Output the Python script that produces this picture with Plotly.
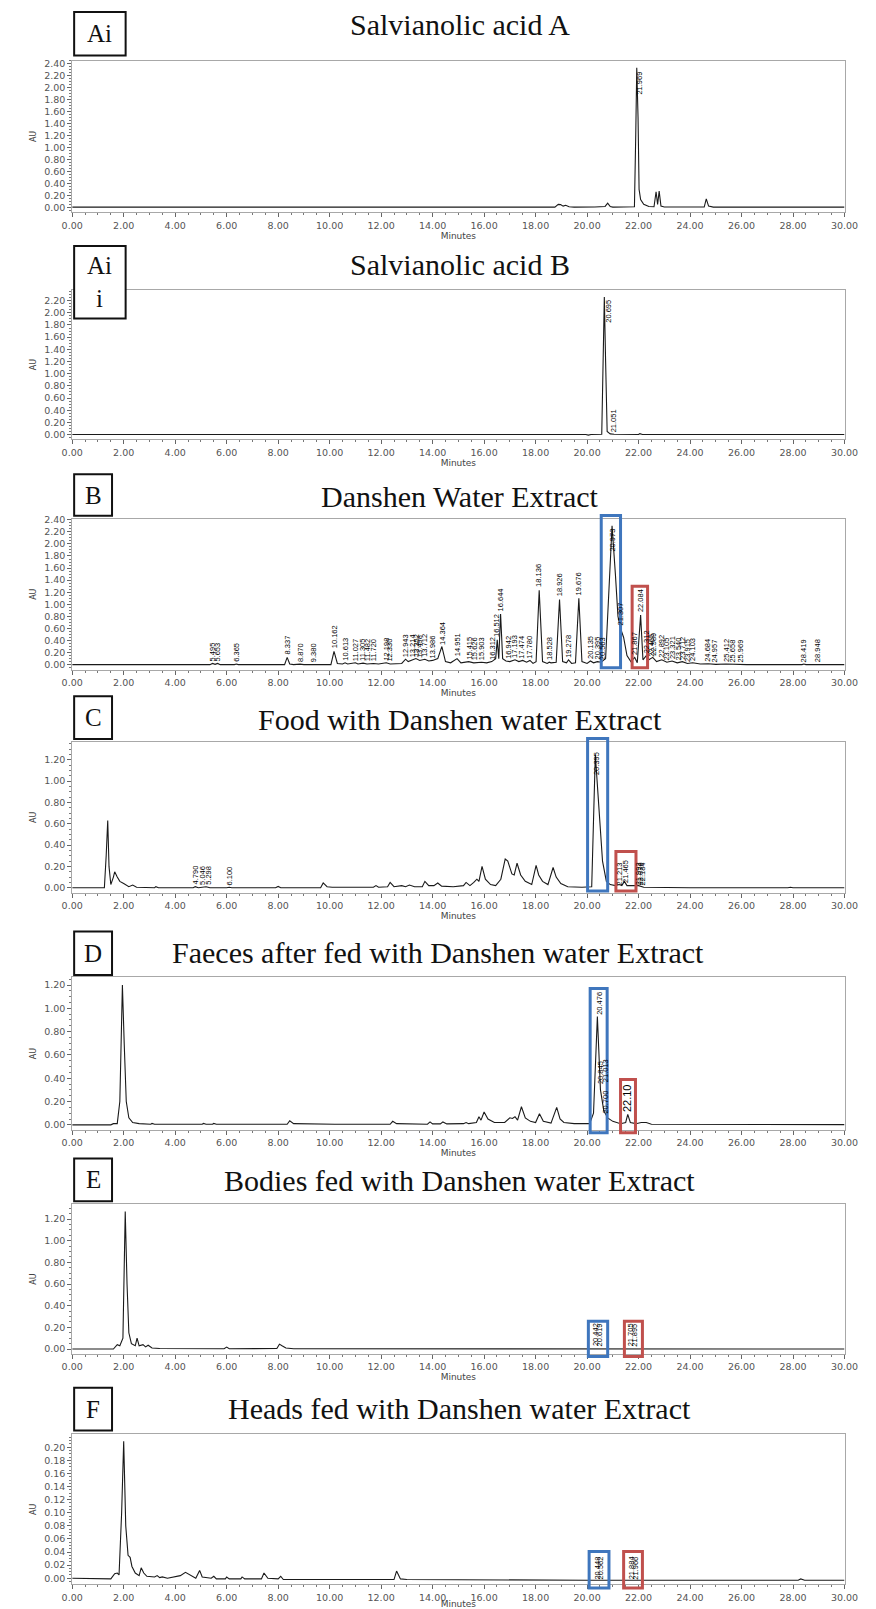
import plotly.graph_objects as go

W, H = 876, 1609

# ---------------- data: chromatogram traces (minutes, AU) ----------------
A_pts = [(0, 0.004), (13.9, 0.004), (14.0, 0.01), (14.1, 0.004), (18.75, 0.004), (18.88, 0.05), (18.97, 0.045),
         (19.07, 0.02), (19.17, 0.035), (19.3, 0.01), (19.5, 0.004), (20.3, 0.006), (20.7, 0.015), (20.8, 0.07),
         (20.9, 0.012), (21.0, 0.004), (21.84, 0.01), (21.89, 1.2), (21.93, 2.33), (21.98, 1.5), (22.02, 0.3),
         (22.08, 0.13), (22.2, 0.05), (22.4, 0.015), (22.6, 0.01), (22.68, 0.26), (22.74, 0.05), (22.8, 0.27),
         (22.87, 0.02), (23.0, 0.005), (24.55, 0.005), (24.63, 0.14), (24.72, 0.02), (24.9, 0.004), (28.4, 0.004),
         (28.5, 0.009), (28.6, 0.004), (30, 0.004)]

A2_pts = [(0, 0.0), (19.15, 0.0), (19.25, 0.012), (19.35, 0.0), (19.95, 0.0), (20.05, -0.01), (20.15, 0.0),
          (20.57, 0.005), (20.63, 1.2), (20.67, 2.26), (20.72, 1.2), (20.78, 0.05), (20.9, 0.01), (21.05, 0.005),
          (22.0, 0.0), (22.05, 0.015), (22.15, 0.0), (24.6, 0.0), (24.7, 0.012), (24.8, 0.0), (25.3, 0.0),
          (25.4, 0.01), (25.5, 0.0), (28.4, 0.0), (28.5, 0.005), (28.6, 0.0), (30, 0.0)]

B_pts = [(0, 0.0), (5.35, 0.0), (5.45, 0.02), (5.55, 0.005), (5.65, 0.02), (5.75, 0.0), (6.3, 0.0), (6.38, 0.01),
         (6.45, 0.0), (8.25, 0.0), (8.35, 0.12), (8.45, 0.01), (8.6, 0.0), (8.85, 0.008), (9.0, 0.0), (9.35, 0.006),
         (9.5, 0.0), (10.05, 0.0), (10.17, 0.22), (10.3, 0.02), (10.5, 0.01), (10.6, 0.03), (10.7, 0.01),
         (11.0, 0.03), (11.1, 0.01), (11.3, 0.025), (11.45, 0.01), (11.7, 0.02), (11.9, 0.01), (12.2, 0.03),
         (12.35, 0.01), (12.8, 0.02), (12.95, 0.09), (13.05, 0.05), (13.2, 0.08), (13.35, 0.1), (13.5, 0.07),
         (13.7, 0.09), (13.85, 0.06), (14.0, 0.07), (14.2, 0.1), (14.36, 0.3), (14.5, 0.05), (14.7, 0.03),
         (14.95, 0.1), (15.1, 0.03), (15.4, 0.05), (15.6, 0.03), (15.9, 0.04), (16.1, 0.03), (16.3, 0.05),
         (16.45, 0.1), (16.51, 0.41), (16.57, 0.1), (16.64, 0.84), (16.72, 0.1), (16.85, 0.06), (17.0, 0.05),
         (17.2, 0.08), (17.35, 0.05), (17.5, 0.07), (17.65, 0.04), (17.78, 0.07), (17.9, 0.02), (18.02, 0.05),
         (18.14, 1.23), (18.27, 0.05), (18.45, 0.02), (18.53, 0.04), (18.6, 0.03), (18.8, 0.04), (18.93, 1.08),
         (19.05, 0.05), (19.2, 0.03), (19.28, 0.08), (19.4, 0.02), (19.55, 0.03), (19.68, 1.10), (19.8, 0.05),
         (20.0, 0.02), (20.13, 0.06), (20.25, 0.03), (20.4, 0.05), (20.55, 0.04), (20.72, 0.1), (20.86, 1.3),
         (20.97, 2.30), (21.1, 1.5), (21.2, 0.8), (21.3, 0.6), (21.42, 0.45), (21.55, 0.15), (21.7, 0.05),
         (21.85, 0.12), (21.95, 0.03), (22.08, 0.82), (22.17, 0.08), (22.3, 0.15), (22.4, 0.08), (22.55, 0.12),
         (22.7, 0.05), (22.9, 0.08), (23.1, 0.04), (23.3, 0.06), (23.5, 0.03), (23.7, 0.05), (23.9, 0.02),
         (24.1, 0.03), (24.4, 0.01), (24.7, 0.015), (25.0, 0.005), (25.4, 0.01), (25.9, 0.005), (26.2, 0.0),
         (28.35, 0.0), (28.42, 0.01), (28.5, 0.0), (28.9, 0.0), (28.95, 0.008), (29.05, 0.0), (30, 0.0)]

C_pts = [(0, 0.0), (1.25, 0.0), (1.32, 0.3), (1.38, 0.63), (1.43, 0.2), (1.5, 0.03), (1.6, 0.1), (1.65, 0.15),
         (1.75, 0.1), (1.85, 0.06), (2.0, 0.04), (2.2, 0.01), (2.35, 0.025), (2.5, 0.005), (3.2, 0.0),
         (3.25, 0.01), (3.35, 0.0), (4.7, 0.0), (4.78, 0.01), (4.9, 0.0), (5.2, 0.01), (5.35, 0.0), (6.0, 0.0),
         (6.1, 0.005), (6.2, 0.0), (7.9, 0.0), (8.0, 0.012), (8.1, 0.0), (9.65, 0.0), (9.75, 0.045), (9.9, 0.01),
         (10.1, 0.005), (11.7, 0.005), (11.8, 0.02), (11.9, 0.005), (12.25, 0.01), (12.35, 0.05), (12.5, 0.01),
         (12.8, 0.02), (12.95, 0.01), (13.1, 0.025), (13.3, 0.01), (13.6, 0.01), (13.7, 0.06), (13.85, 0.02),
         (14.05, 0.02), (14.2, 0.045), (14.35, 0.015), (14.8, 0.01), (15.2, 0.02), (15.3, 0.05), (15.45, 0.02),
         (15.6, 0.05), (15.72, 0.08), (15.8, 0.06), (15.92, 0.2), (16.05, 0.08), (16.25, 0.03), (16.45, 0.02),
         (16.65, 0.08), (16.82, 0.27), (16.92, 0.25), (17.08, 0.13), (17.17, 0.12), (17.28, 0.23), (17.42, 0.12),
         (17.6, 0.06), (17.85, 0.03), (18.02, 0.21), (18.12, 0.12), (18.27, 0.06), (18.48, 0.03), (18.68, 0.19),
         (18.8, 0.1), (18.98, 0.04), (19.25, 0.01), (19.8, 0.005), (20.18, 0.01), (20.32, 1.25), (20.45, 0.8),
         (20.6, 0.25), (20.75, 0.06), (20.9, 0.03), (21.1, 0.02), (21.25, 0.03), (21.35, 0.02), (21.45, 0.06),
         (21.55, 0.02), (21.9, 0.015), (22.0, 0.02), (22.2, 0.005), (24.0, 0.0), (27.8, 0.0), (27.9, 0.005),
         (28.0, 0.0), (30, 0.0)]

D_pts = [(0, 0.0), (1.5, 0.0), (1.6, 0.01), (1.75, 0.01), (1.85, 0.2), (1.95, 1.2), (2.02, 0.7), (2.1, 0.2),
         (2.2, 0.06), (2.35, 0.02), (2.6, 0.01), (3.05, 0.005), (3.1, 0.012), (3.2, 0.005), (5.05, 0.005),
         (5.1, 0.012), (5.2, 0.005), (5.45, 0.005), (5.5, 0.012), (5.6, 0.005), (8.35, 0.005), (8.45, 0.035),
         (8.6, 0.01), (10.0, 0.005), (10.1, 0.01), (10.2, 0.005), (12.35, 0.005), (12.45, 0.03), (12.6, 0.01),
         (13.8, 0.005), (13.9, 0.025), (14.0, 0.008), (14.3, 0.008), (14.4, 0.025), (14.55, 0.008), (15.2, 0.01),
         (15.3, 0.02), (15.4, 0.01), (15.7, 0.02), (15.8, 0.07), (15.88, 0.04), (16.0, 0.11), (16.15, 0.05),
         (16.4, 0.02), (16.8, 0.02), (17.0, 0.06), (17.1, 0.055), (17.2, 0.07), (17.3, 0.04), (17.45, 0.155),
         (17.6, 0.06), (17.8, 0.03), (18.0, 0.02), (18.15, 0.095), (18.3, 0.03), (18.6, 0.015), (18.82, 0.15),
         (18.95, 0.05), (19.1, 0.02), (19.5, 0.01), (20.1, 0.01), (20.25, 0.1), (20.4, 0.93), (20.52, 0.3),
         (20.65, 0.12), (20.8, 0.06), (21.0, 0.03), (21.3, 0.01), (21.5, 0.02), (21.58, 0.09), (21.68, 0.02),
         (21.9, 0.01), (22.1, 0.02), (22.3, 0.02), (22.5, 0.005), (25.0, 0.003), (28.4, 0.002), (28.5, 0.006),
         (28.6, 0.002), (30, 0.002)]

E_pts = [(0, 0.0), (1.6, 0.0), (1.75, 0.04), (1.85, 0.03), (1.97, 0.1), (2.06, 1.27), (2.13, 0.6), (2.2, 0.15),
         (2.3, 0.05), (2.45, 0.03), (2.52, 0.1), (2.6, 0.03), (2.75, 0.04), (2.85, 0.02), (2.95, 0.035),
         (3.1, 0.01), (3.4, 0.005), (4.4, 0.005), (4.45, 0.008), (4.5, 0.003), (4.95, 0.003), (5.0, 0.01),
         (5.1, 0.003), (5.9, 0.003), (6.0, 0.018), (6.1, 0.003), (7.95, 0.005), (8.05, 0.045), (8.15, 0.03),
         (8.3, 0.01), (8.6, 0.003), (25.7, 0.002), (25.8, 0.006), (25.9, 0.002), (30, 0.0)]

F_pts = [(0, 0.0), (1.0, -0.0005), (1.5, -0.001), (1.65, 0.007), (1.75, 0.008), (1.82, 0.005), (1.92, 0.1),
         (2.0, 0.209), (2.08, 0.08), (2.17, 0.035), (2.25, 0.032), (2.32, 0.018), (2.45, 0.008), (2.6, 0.004),
         (2.68, 0.016), (2.78, 0.008), (2.9, 0.003), (3.2, 0.002), (3.3, 0.004), (3.4, 0.001), (3.5, 0.002),
         (3.7, 0.0), (4.2, 0.004), (4.4, 0.009), (4.6, 0.004), (4.8, 0.0), (4.95, 0.012), (5.05, 0.002),
         (5.4, 0.0), (5.5, 0.003), (5.6, -0.001), (5.95, -0.001), (6.0, 0.002), (6.1, -0.001), (6.55, -0.001),
         (6.6, 0.002), (6.7, -0.001), (7.35, -0.001), (7.45, 0.008), (7.6, 0.0), (8.0, -0.001), (8.1, 0.003),
         (8.2, -0.002), (10.0, -0.002), (12.5, -0.002), (12.6, 0.011), (12.75, -0.001), (13.0, -0.002),
         (20.0, -0.003), (28.2, -0.003), (28.3, -0.001), (28.45, -0.003), (30, -0.003)]

# ---------------- data: peak labels (minutes, AU, text, anchor) ----------------
A_labels = [(22.0, 2.30, "21.969", "top")]
A2_labels = [(20.8, 2.25, "20.695", "top"), (21.02, 0.0, "21.051", "bottom")]
B_labels = [(5.45, 0.02, "5.495", "bottom"), (5.65, 0.02, "5.653", "bottom"), (6.37, 0.01, "6.365", "bottom"),
            (8.35, 0.13, "8.337", "bottom"), (8.87, 0.01, "8.870", "bottom"), (9.38, 0.01, "9.380", "bottom"),
            (10.17, 0.23, "10.162", "bottom"), (10.61, 0.03, "10.613", "bottom"), (11.0, 0.03, "11.027", "bottom"),
            (11.3, 0.03, "11.305", "bottom"), (11.48, 0.02, "11.482", "bottom"), (11.72, 0.02, "11.720", "bottom"),
            (12.2, 0.03, "12.198", "bottom"), (12.33, 0.02, "12.330", "bottom"), (12.95, 0.09, "12.943", "bottom"),
            (13.2, 0.08, "13.214", "bottom"), (13.35, 0.1, "13.352", "bottom"), (13.5, 0.08, "13.498", "bottom"),
            (13.71, 0.09, "13.712", "bottom"), (14.0, 0.07, "13.986", "bottom"), (14.36, 0.3, "14.364", "bottom"),
            (14.95, 0.1, "14.951", "bottom"), (15.4, 0.05, "15.415", "bottom"), (15.63, 0.04, "15.626", "bottom"),
            (15.9, 0.04, "15.903", "bottom"), (16.3, 0.05, "16.312", "bottom"), (16.51, 0.42, "16.512", "bottom"),
            (16.64, 0.85, "16.644", "bottom"), (16.94, 0.06, "16.942", "bottom"), (17.19, 0.08, "17.193", "bottom"),
            (17.47, 0.07, "17.474", "bottom"), (17.78, 0.07, "17.780", "bottom"), (18.14, 1.25, "18.136", "bottom"),
            (18.53, 0.04, "18.528", "bottom"), (18.93, 1.1, "18.926", "bottom"), (19.28, 0.08, "19.278", "bottom"),
            (19.68, 1.12, "19.676", "bottom"), (20.13, 0.06, "20.135", "bottom"), (20.4, 0.05, "20.395", "bottom"),
            (20.6, 0.04, "20.563", "bottom"), (20.97, 2.28, "20.973", "top"), (21.31, 0.62, "21.307", "bottom"),
            (21.87, 0.12, "21.867", "bottom"), (22.08, 0.84, "22.084", "bottom"), (22.3, 0.15, "22.312", "bottom"),
            (22.47, 0.1, "22.465", "bottom"), (22.59, 0.12, "22.589", "bottom"), (22.89, 0.08, "22.892", "bottom"),
            (23.1, 0.04, "23.105", "bottom"), (23.32, 0.06, "23.321", "bottom"), (23.54, 0.03, "23.540", "bottom"),
            (23.71, 0.05, "23.712", "bottom"), (23.92, 0.02, "23.915", "bottom"), (24.1, 0.03, "24.103", "bottom"),
            (24.68, 0.015, "24.684", "bottom"), (24.96, 0.005, "24.957", "bottom"), (25.41, 0.01, "25.412", "bottom"),
            (25.66, 0.005, "25.658", "bottom"), (25.97, 0.005, "25.969", "bottom"), (28.42, 0.01, "28.419", "bottom"),
            (28.95, 0.008, "28.948", "bottom")]
C_labels = [(4.78, 0.01, "4.790", "bottom"), (5.03, 0.01, "5.046", "bottom"), (5.3, 0.01, "5.298", "bottom"),
            (6.12, 0.005, "6.100", "bottom"), (20.36, 1.29, "20.395", "top"), (21.25, 0.0, "21.213", "bottom"),
            (21.47, 0.03, "21.465", "bottom"), (21.98, 0.0, "21.993", "bottom"), (22.06, 0.0, "22.076", "bottom"),
            (22.14, 0.0, "22.184", "bottom")]
D_labels = [(20.45, 1.16, "20.476", "top"), (20.55, 0.33, "20.845", "bottom"), (20.72, 0.35, "21.013", "bottom"),
            (20.68, 0.08, "20.700", "bottom")]
D_big_labels = [(21.58, 0.09, "22.10", "bottom")]
E_labels = [(20.35, 0.005, "20.442", "bottom"), (20.52, 0.005, "20.619", "bottom"),
            (21.72, 0.005, "21.705", "bottom"), (21.85, 0.005, "21.895", "bottom")]
F_labels = [(20.37, -0.005, "20.448", "bottom"), (20.52, -0.005, "20.562", "bottom"),
            (21.72, -0.005, "21.884", "bottom"), (21.85, -0.005, "21.966", "bottom")]

# ---------------- data: highlight boxes (minutes, AU) ----------------
B_boxes = [("blue", 20.55, 21.3, -0.05, 2.47), ("red", 21.75, 22.35, -0.05, 1.30)]
C_boxes = [("blue", 20.02, 20.8, -0.03, 1.40), ("red", 21.12, 21.9, -0.03, 0.34)]
D_boxes = [("blue", 20.12, 20.78, -0.068, 1.17), ("red", 21.3, 21.88, -0.068, 0.39)]
E_boxes = [("blue", 20.05, 20.8, -0.07, 0.257), ("red", 21.45, 22.15, -0.07, 0.257)]
F_boxes = [("blue", 20.08, 20.85, -0.015, 0.041), ("red", 21.42, 22.15, -0.015, 0.041)]

panel_letters = ["Ai", "Ai<br>i", "B", "C", "D", "E", "F"]
panel_titles = ["Salvianolic acid A", "Salvianolic acid B", "Danshen Water Extract",
                "Food with Danshen water Extract", "Faeces after fed with Danshen water Extract",
                "Bodies fed with Danshen water Extract", "Heads fed with Danshen water Extract"]

# ---------------- layout geometry (pixels) ----------------
panels = [
    dict(pts=A_pts, labels=A_labels, big=[], boxes=[], top=56, bot=209, lo=-0.083, hi=2.45, dt=0.2, mdt=0.05,
         title_y=20, title_x=462, box=(65, 7, 118, 51)),
    dict(pts=A2_pts, labels=A2_labels, big=[], boxes=[], top=287, bot=438, lo=-0.081, hi=2.38, dt=0.2, mdt=0.05,
         title_y=262, title_x=462, box=(65, 243, 118, 316)),
    dict(pts=B_pts, labels=B_labels, big=[], boxes=B_boxes, top=518, bot=670, lo=-0.082, hi=2.416, dt=0.2,
         mdt=0.05, title_y=495, title_x=462, box=(65, 473, 104, 515)),
    dict(pts=C_pts, labels=C_labels, big=[], boxes=C_boxes, top=743, bot=895, lo=-0.047, hi=1.367, dt=0.2,
         mdt=0.05, title_y=720, title_x=462, box=(65, 697, 104, 740)),
    dict(pts=D_pts, labels=D_labels, big=D_big_labels, boxes=D_boxes, top=980, bot=1134, lo=-0.043, hi=1.268,
         dt=0.2, mdt=0.05, title_y=955, title_x=440, box=(65, 934, 104, 978)),
    dict(pts=E_pts, labels=E_labels, big=[], boxes=E_boxes, top=1209, bot=1360, lo=-0.046, hi=1.337, dt=0.2,
         mdt=0.05, title_y=1185, title_x=462, box=(65, 1163, 104, 1206)),
    dict(pts=F_pts, labels=F_labels, big=[], boxes=F_boxes, top=1441, bot=1592, lo=-0.009, hi=0.2197, dt=0.02,
         mdt=0.005, title_y=1415, title_x=462, box=(65, 1394, 104, 1437)),
]

X_LEFT, X_RIGHT = 63, 858
BOX_COLORS = {"blue": "#3f76bd", "red": "#c0504d"}
TICK_FONT = dict(family="DejaVu Sans", size=9.5, color="#555555")

fig = go.Figure()
layout = dict(width=W, height=H, margin=dict(l=0, r=0, t=0, b=0), autosize=False,
              paper_bgcolor="white", plot_bgcolor="white", showlegend=False)
annotations = []
shapes = []

for i, p in enumerate(panels):
    n = i + 1
    xs = "x" if n == 1 else f"x{n}"
    ys = "y" if n == 1 else f"y{n}"
    xk = "xaxis" if n == 1 else f"xaxis{n}"
    yk = "yaxis" if n == 1 else f"yaxis{n}"
    t_vals = [q[0] for q in p["pts"]]
    a_vals = [q[1] for q in p["pts"]]
    fig.add_trace(go.Scatter(x=t_vals, y=a_vals, mode="lines", xaxis=xs, yaxis=ys,
                             line=dict(color="#1a1a1a", width=1.1), hoverinfo="skip"))
    layout[xk] = dict(domain=[X_LEFT / W, X_RIGHT / W], anchor=ys, range=[0, 30], dtick=2, tick0=0,
                      tickformat=".2f", ticks="outside", ticklen=4, tickcolor="#666666", tickfont=TICK_FONT,
                      showline=True, linecolor="#a8a8a8", linewidth=1, mirror=True, showgrid=False,
                      zeroline=False,
                      minor=dict(dtick=0.5, ticks="outside", ticklen=2, tickcolor="#777777", showgrid=False),
                      title=dict(text="Minutes", font=dict(family="DejaVu Sans", size=9, color="#444444"),
                                 standoff=0))
    layout[yk] = dict(domain=[1 - p["bot"] / H, 1 - p["top"] / H], anchor=xs, range=[p["lo"], p["hi"]],
                      dtick=p["dt"], tick0=0, tickformat=".2f", ticks="outside", ticklen=4, tickcolor="#666666",
                      tickfont=TICK_FONT, showline=True, linecolor="#a8a8a8", linewidth=1, mirror=True,
                      showgrid=False, zeroline=False,
                      minor=dict(dtick=p["mdt"], ticks="outside", ticklen=2, tickcolor="#777777", showgrid=False),
                      title=dict(text="AU", font=dict(family="DejaVu Sans", size=8, color="#444444"),
                                 standoff=6))
    annotations.append(dict(text=panel_titles[i], xref="paper", yref="paper", x=p["title_x"] / W,
                            y=1 - p["title_y"] / H, xanchor="center", yanchor="middle", showarrow=False,
                            font=dict(family="Liberation Serif", size=30, color="#111111")))
    bx0, by0, bx1, by1 = p["box"]
    shapes.append(dict(type="rect", xref="paper", yref="paper", x0=bx0 / W, x1=bx1 / W, y0=1 - by1 / H,
                       y1=1 - by0 / H, line=dict(color="#111111", width=2), fillcolor="white"))
    annotations.append(dict(text=panel_letters[i], xref="paper", yref="paper", x=(bx0 + bx1) / 2 / W,
                            y=1 - (by0 + by1) / 2 / H, xanchor="center", yanchor="middle", showarrow=False,
                            font=dict(family="Liberation Serif", size=25, color="#111111")))
    for (t, a, txt, anc) in p["labels"]:
        annotations.append(dict(text=txt, x=t, y=a, xref=xs, yref=ys, showarrow=False, textangle=-90,
                                xanchor="center", yanchor=anc,
                                font=dict(family="Liberation Sans", size=7.5, color="#000000")))
    for (t, a, txt, anc) in p["big"]:
        annotations.append(dict(text=txt, x=t, y=a, xref=xs, yref=ys, showarrow=False, textangle=-90,
                                xanchor="center", yanchor=anc,
                                font=dict(family="Liberation Sans", size=11, color="#000000")))
    for (c, t0, t1, a0, a1) in p["boxes"]:
        span = p["hi"] - p["lo"]
        shapes.append(dict(type="rect", xref=xs, yref=f"{ys} domain", x0=t0, x1=t1,
                           y0=(a0 - p["lo"]) / span, y1=(a1 - p["lo"]) / span,
                           line=dict(color=BOX_COLORS[c], width=3), fillcolor="rgba(0,0,0,0)"))

layout["annotations"] = annotations
layout["shapes"] = shapes
fig.update_layout(**layout)
fig.write_html("out.html",
               post_script="document.body.style.margin='0';document.body.style.padding='0';"
                           "document.documentElement.style.margin='0';")
